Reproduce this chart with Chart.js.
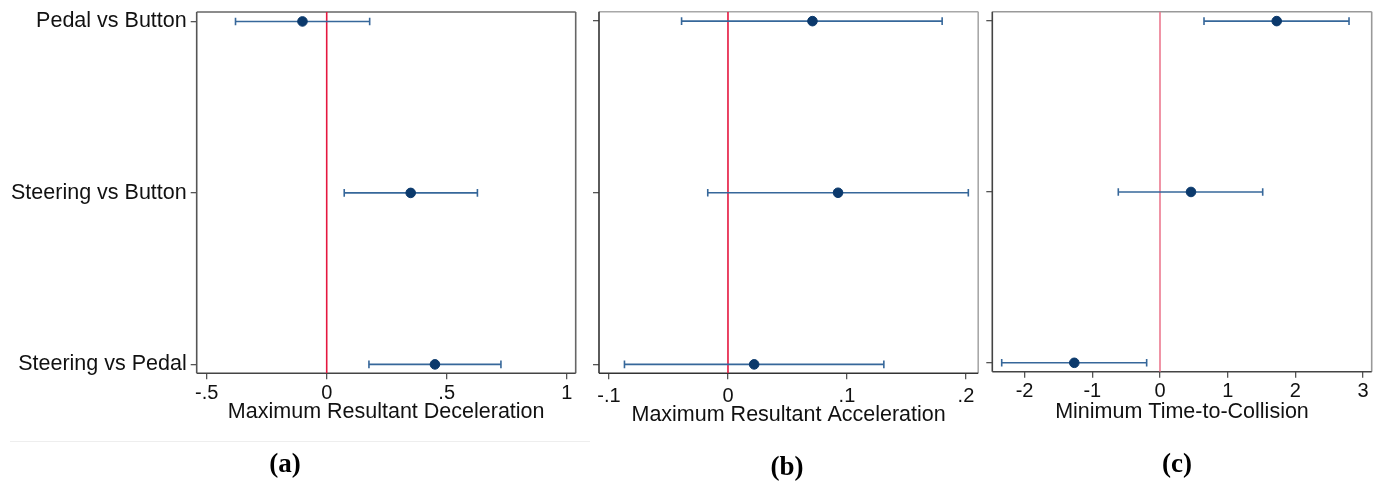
<!DOCTYPE html>
<html>
<head>
<meta charset="utf-8">
<script src="https://cdn.jsdelivr.net/npm/chart.js@4.4.1/dist/chart.umd.min.js"></script>
<style>
  html, body { margin:0; padding:0; background:#fff; }
  body { width:1378px; height:481px; position:relative; overflow:hidden; }
  .pane { position:absolute; top:0; height:481px; }
  .tag { position:absolute; font-family:"Liberation Serif","Times New Roman",serif; font-weight:bold; font-size:27px; color:#000; transform:translate(-50%,-50%); white-space:nowrap; }
  .rule { position:absolute; left:10px; width:580px; top:441px; height:0; border-top:1px solid #eeeeee; }
</style>
</head>
<body>
<div class="rule"></div>
<div class="pane" style="left:0px;width:590px"><canvas id="ca" width="590" height="481"></canvas></div>
<div class="pane" style="left:585px;width:399px"><canvas id="cb" width="399" height="481"></canvas></div>
<div class="pane" style="left:984px;width:394px"><canvas id="cc" width="394" height="481"></canvas></div>
<div class="tag" style="left:285px;top:463px">(a)</div>
<div class="tag" style="left:787px;top:466px">(b)</div>
<div class="tag" style="left:1177px;top:463px">(c)</div>
<script>
// ---------- data ----------
const categories = ['Pedal vs Button', 'Steering vs Button', 'Steering vs Pedal'];

const decelEst = [-0.101, 0.350, 0.451];
const decelLo  = [-0.380, 0.073, 0.176];
const decelHi  = [ 0.179, 0.628, 0.726];
const decelTicks = [-0.5, 0, 0.5, 1];

const accelEst = [0.071, 0.0925, 0.022];
const accelLo  = [-0.039, -0.017, -0.087];
const accelHi  = [0.180, 0.202, 0.131];
const accelTicks = [-0.1, 0, 0.1, 0.2];

const ttcEst = [1.724, 0.458, -1.266];
const ttcLo  = [0.650, -0.616, -2.338];
const ttcHi  = [2.792, 1.517, -0.197];
const ttcTicks = [-2, -1, 0, 1, 2, 3];

const titles = ['Maximum Resultant Deceleration', 'Maximum Resultant Acceleration', 'Minimum Time-to-Collision'];

// ---------- styling ----------
Chart.defaults.font.family = '"Liberation Sans", Arial, sans-serif';
Chart.defaults.color = '#111';
const Y_MIN = 0.945, Y_MAX = 3.052;
const CI_COLOR = '#36679a';
const PT_COLOR = '#0b396c';

function stataFmt(v) {
  if (Math.abs(v) < 1e-9) return '0';
  let s = String(Math.round(v * 1000) / 1000);
  s = s.replace(/^0\./, '.').replace(/^-0\./, '-.');
  return s;
}

const framePlugin = {
  id: 'frame',
  beforeDatasetsDraw(chart, args, o) {
    const {left, right, top, bottom} = chart.chartArea;
    const ctx = chart.ctx;
    ctx.save();
    ctx.lineWidth = 1.6;
    const seg = (x1, y1, x2, y2, c) => { ctx.strokeStyle = c; ctx.beginPath(); ctx.moveTo(x1, y1); ctx.lineTo(x2, y2); ctx.stroke(); };
    seg(left, top, right, top, o.top);
    seg(right, top, right, bottom, o.right);
    seg(left, bottom, right, bottom, o.bottom);
    seg(left, top, left, bottom, o.left);
    ctx.restore();
  }
};

function makePanel(id, est, lo, hi, ticks, xMin, xMax, title, cfg) {
  const datasets = [];
  datasets.push({
    type: 'line', data: [{x: 0, y: Y_MIN}, {x: 0, y: Y_MAX}],
    borderColor: cfg.refColor, borderWidth: 1.6, pointRadius: 0, order: 3
  });
  for (let i = 0; i < est.length; i++) {
    datasets.push({
      type: 'line', data: [{x: lo[i], y: i + 1}, {x: hi[i], y: i + 1}],
      borderColor: CI_COLOR, borderWidth: 1.6,
      pointStyle: 'line', rotation: 90, pointRadius: 3.8,
      pointBorderColor: CI_COLOR, pointBorderWidth: 1.6, order: 2
    });
  }
  datasets.push({
    type: 'scatter', data: est.map((v, i) => ({x: v, y: i + 1})),
    backgroundColor: PT_COLOR, borderColor: PT_COLOR, pointRadius: 4.8, order: 1
  });

  new Chart(document.getElementById(id), {
    type: 'scatter',
    data: { datasets },
    options: {
      responsive: false, animation: false, events: [],
      layout: { padding: { left: 0, right: cfg.padRight, top: cfg.top, bottom: cfg.padBottom } },
      plugins: { legend: { display: false }, tooltip: { enabled: false },
                 frame: cfg.frame },
      scales: {
        x: {
          type: 'linear', min: xMin, max: xMax,
          afterBuildTicks: s => { s.ticks = ticks.map(v => ({value: v})); },
          afterFit: s => { s.height = cfg.xHeight; s.paddingLeft = 0; s.paddingRight = 0; },
          grid: { drawOnChartArea: false, drawTicks: true, tickLength: 6, color: '#555', lineWidth: 1.3 },
          border: { display: false },
          ticks: { font: { size: 20 }, padding: cfg.tickPad, maxRotation: 0, autoSkip: false,
                   callback: v => stataFmt(v), color: '#111' },
          title: { display: true, text: title, font: { size: 21.5 }, padding: { top: 0, bottom: 0 }, color: '#111' }
        },
        y: {
          type: 'linear', reverse: true, min: Y_MIN, max: Y_MAX,
          afterBuildTicks: s => { s.ticks = categories.map((c, i) => ({value: i + 1})); },
          afterFit: s => { s.width = cfg.yWidth; s.paddingTop = 0; s.paddingBottom = 0; },
          grid: { drawOnChartArea: false, drawTicks: true, tickLength: 6, color: '#555', lineWidth: 1.3 },
          border: { display: false },
          ticks: { font: { size: 21.5 }, padding: 4, autoSkip: false, color: '#111',
                   callback: v => cfg.showCats ? categories[Math.round(v) - 1] : '' }
        }
      }
    },
    plugins: [framePlugin]
  });
}

makePanel('ca', decelEst, decelLo, decelHi, decelTicks, -0.5417, 1.0375, titles[0], {
  refColor: '#e5173f', padRight: 14.3, top: 12, padBottom: 56.4, xHeight: 51.3, tickPad: 1.8,
  yWidth: 196.7, showCats: true,
  frame: { top: '#666', right: '#666', bottom: '#444', left: '#555' }
});
makePanel('cb', accelEst, accelLo, accelHi, accelTicks, -0.1084, 0.2103, titles[1], {
  refColor: '#e5173f', padRight: 4, top: 11.7, padBottom: 53.1, xHeight: 54.6, tickPad: 5.5,
  yWidth: 14, showCats: false,
  frame: { top: '#a8a8a8', right: '#a8a8a8', bottom: '#333', left: '#333' }
});
makePanel('cc', ttcEst, ttcLo, ttcHi, ttcTicks, -2.477, 3.127, titles[2], {
  refColor: '#ec7990', padRight: 6.3, top: 11.7, padBottom: 56.4, xHeight: 52.9, tickPad: 2.1,
  yWidth: 8.3, showCats: false,
  frame: { top: '#999', right: '#999', bottom: '#444', left: '#444' }
});
</script>
</body>
</html>
